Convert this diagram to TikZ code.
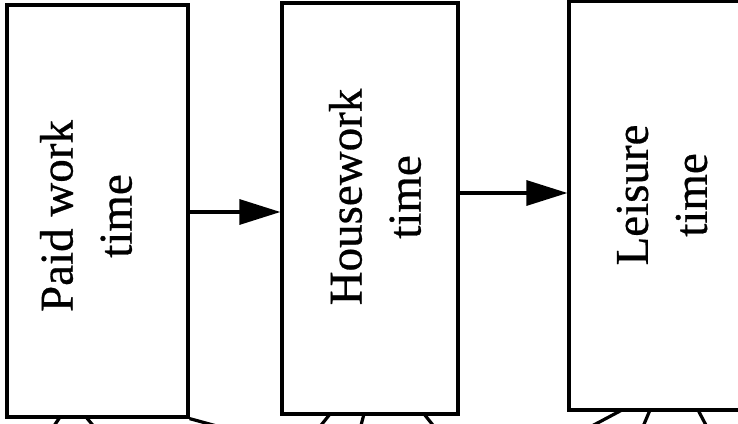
\documentclass[tikz,border=0pt]{standalone}
\usepackage{fontspec}
\setmainfont{Liberation Serif}
\newfontfamily\scanfont{Liberation Serif}[FakeBold=0.6]
\usetikzlibrary{arrows.meta}
\begin{document}
\begin{tikzpicture}[x=1pt,y=1pt,
  box/.style={draw=black, line width=3.2pt, inner sep=0pt},
  lbl/.style={rotate=90, align=center, font=\scanfont\fontsize{47}{59}\selectfont, inner sep=0pt},
  conn/.style={line width=3.2pt, -{Triangle[length=41pt,width=25pt]}},
  frag/.style={line width=3.2pt}]
\useasboundingbox (0,0) rectangle (738,423);
\clip (0,0) rectangle (738,423);
\fill[white] (0,0) rectangle (738,423);
\node[box, minimum width=181pt, minimum height=412pt] (b1) at (97.5,212) {};
\node[box, minimum width=176pt, minimum height=411pt] (b2) at (370,214.5) {};
\node[box, minimum width=186pt, minimum height=409pt] (b3) at (662,217.5) {};
\node[lbl] (t1) at (86,207) {Paid work\\time};
\node[lbl] (t2) at (375,226) {Housework\\time};
\node[lbl] (t3) at (662,228) {Leisure\\time};
\coordinate (a1s) at (b1.east |- 0,211);
\coordinate (a1e) at (b2.west |- 0,211);
\coordinate (a2s) at (b2.east |- 0,230);
\coordinate (a2e) at (b3.west |- 0,230);
\draw[conn] (a1s) -- (a1e);
\draw[conn] (a2s) -- (a2e);
% fragments of connectors running off the bottom edge
\coordinate (f1a) at (60,6);   \coordinate (f1b) at (52,-6);
\coordinate (f2a) at (86,6);   \coordinate (f2b) at (96,-6);
\coordinate (f3a) at (b1.south east); \coordinate (f3b) at (235,-8);
\coordinate (f4a) at (330,9);  \coordinate (f4b) at (318,-6);
\coordinate (f5a) at (364,9);  \coordinate (f5b) at (360,-6);
\coordinate (f6a) at (424,9);  \coordinate (f6b) at (436,-6);
\coordinate (f7a) at (622,13); \coordinate (f7b) at (590,-4);
\coordinate (f8a) at (650,13); \coordinate (f8b) at (642,-6);
\coordinate (f9a) at (698,13); \coordinate (f9b) at (708,-6);
\foreach \i in {1,...,9} {\draw[frag] (f\i a) -- (f\i b);}
\end{tikzpicture}
\end{document}
